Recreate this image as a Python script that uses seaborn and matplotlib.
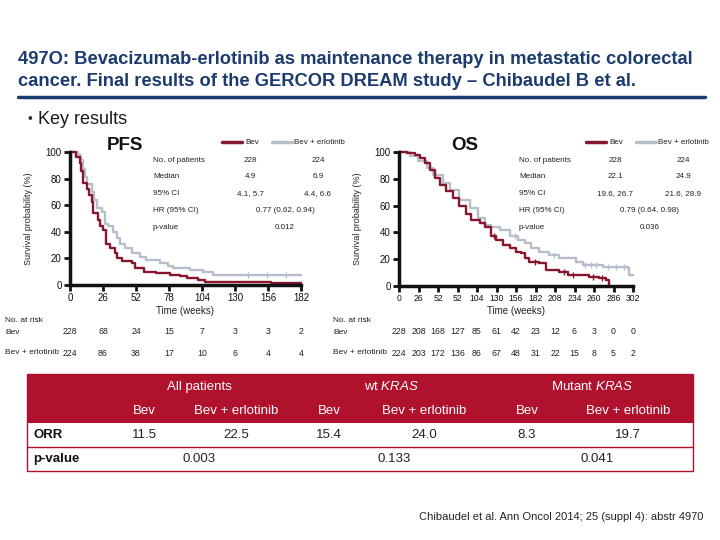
import numpy as np
import pandas as pd
import seaborn as sns
import matplotlib.pyplot as plt
from matplotlib.transforms import blended_transform_factory
from matplotlib.patches import Rectangle

# ---- data ----
arms = ['Bev', 'Bev + erlotinib']

# PFS step curves (weeks, % event free)
pfs_bev_t = [0, 5, 8, 8.7, 10, 13, 15, 17, 18.4, 22, 24, 26, 28, 31.5, 35.5, 37, 41,
             48.6, 51, 58, 68, 79, 87, 92, 101, 106, 158, 182]
pfs_bev_s = [100, 96, 92, 86, 77, 72, 67.6, 62.6, 54, 49, 44, 41, 31, 27.7, 24, 20, 17.7,
             16.5, 12.7, 10, 9, 7.2, 6.5, 5.2, 4, 2, 1.5, 1.5]
pfs_erl_t = [0, 6.6, 9, 10.5, 12, 13.7, 17, 19, 21, 25, 27.6, 30, 34, 37, 39, 43, 49,
             55, 60, 71, 77.5, 81, 94.6, 105, 113, 182]
pfs_erl_s = [100, 97.5, 94, 87.5, 81, 76, 70, 64, 57.6, 55, 46, 44, 40, 35, 31, 27.7, 24,
             21.4, 19, 16.5, 14, 12.7, 11.5, 10, 7.2, 7.2]
pfs_erl_cens = [140, 155, 170]

# OS step curves
os_bev_t = [0, 10.3, 21.3, 27.9, 34.1, 41.3, 47.5, 54.8, 63, 72.3, 80.6, 89.9, 96.1, 107.4,
            114.2, 122.9, 129.7, 138.4, 147.4, 156, 162.9, 167.4, 173.6, 187, 196.3, 213.9,
            225.2, 253.6, 266.5, 275.8, 280]
os_bev_s = [100, 99, 98, 95.5, 91.8, 86.8, 80.5, 75.6, 70.6, 65.6, 59.4, 54, 49, 47, 44.4,
            37, 34.4, 30.7, 28, 25.7, 24.4, 20.7, 18.2, 17, 12, 10.7, 8.2, 7, 5.7, 4.5, 0.7]
os_bev_cens = [126, 181, 220, 232, 258, 271]
os_erl_t = [0, 14.5, 25.8, 36.8, 45.5, 58.9, 67.7, 80.6, 94, 105.4, 114.2, 122.9, 134.3,
            147.4, 158, 167.4, 176.1, 187, 200.4, 213.9, 235.5, 244.8, 271.7, 304.8, 306.8, 312]
os_erl_s = [100, 97, 93, 88, 83, 77, 71.8, 64, 58, 50.6, 45.6, 44.4, 41.9, 37, 34.4, 32,
            28, 25.7, 23, 20.7, 18.2, 15.7, 14.5, 13.2, 8.2, 8.2]
os_erl_cens = [155, 207, 248, 256, 263, 279, 289, 300]

pfs_ticks = [0, 26, 52, 78, 104, 130, 156, 182]
os_ticks = [0, 26, 52, 78, 104, 130, 156, 182, 208, 234, 260, 286, 312]
os_ticklabels = ['0', '26', '52', '52', '104', '130', '156', '182', '208', '234', '260', '286', '302']

pfs_risk_bev = [228, 68, 24, 15, 7, 3, 3, 2]
pfs_risk_erl = [224, 86, 38, 17, 10, 6, 4, 4]
os_risk_bev = [228, 208, 168, 127, 85, 61, 42, 23, 12, 6, 3, 0, 0]
os_risk_erl = [224, 203, 172, 136, 86, 67, 48, 31, 22, 15, 8, 5, 2]

stat_rows = ['No. of patients', 'Median', '95% CI', 'HR (95% CI)', 'p-value']
pfs_stats = [('228', '224'), ('4.9', '6.9'), ('4.1, 5.7', '4.4, 6.6'), ('0.77 (0.62, 0.94)',), ('0.012',)]
os_stats = [('228', '224'), ('22.1', '24.9'), ('19.6, 26.7', '21.6, 28.9'), ('0.79 (0.64, 0.98)',), ('0.036',)]

groups = ['All patients', 'wt $\\mathit{KRAS}$', 'Mutant $\\mathit{KRAS}$']
orr_bev = ['11.5', '15.4', '8.3']
orr_erl = ['22.5', '24.0', '19.7']
orr_p = ['0.003', '0.133', '0.041']

RED = '#87162F'
GRAY = '#B5BECA'
NAVY = '#1C3B6E'
TABRED = '#B0122E'
palette = {'Bev': RED, 'Bev + erlotinib': GRAY}

sns.set_theme(style='white')
plt.rcParams['font.family'] = ['Liberation Sans', 'DejaVu Sans']
plt.rcParams['mathtext.fontset'] = 'custom'
plt.rcParams['mathtext.rm'] = 'Liberation Sans'
plt.rcParams['mathtext.it'] = 'Liberation Sans:italic'

fig = plt.figure(figsize=(7.2, 5.4), dpi=100)

# background axes in pixel coordinates for slide text
bg = fig.add_axes([0, 0, 1, 1])
bg.set_xlim(0, 720)
bg.set_ylim(540, 0)
bg.axis('off')

bg.text(18, 59, '497O: Bevacizumab-erlotinib as maintenance therapy in metastatic colorectal',
        fontsize=13.2, fontweight='bold', color=NAVY, va='center')
bg.text(18, 81, 'cancer. Final results of the GERCOR DREAM study \u2013 Chibaudel B et al.',
        fontsize=13.2, fontweight='bold', color=NAVY, va='center')
bg.plot([18, 705], [97, 97], color=NAVY, lw=2.5)
bg.text(28, 119, '\u2022', fontsize=10, color='#333333', va='center')
bg.text(38, 119, 'Key results', fontsize=13, color='#1a1a1a', va='center')


def px(x0, y0, w, h):
    return [x0 / 720, 1 - (y0 + h) / 540, w / 720, h / 540]


def km_frame(t, s, arm):
    return pd.DataFrame({'t': t, 's': s, 'arm': arm})


def step_value(t, s, x):
    idx = np.searchsorted(t, x, side='right') - 1
    return np.asarray(s)[idx]


def km_panel(rect, curves, cens, ticks, ticklabels, xmax, tsize):
    ax = fig.add_axes(rect)
    ax.set_facecolor('none')
    df = pd.concat([km_frame(t, s, a) for a, (t, s) in curves.items()], ignore_index=True)
    sns.lineplot(data=df, x='t', y='s', hue='arm', hue_order=['Bev + erlotinib', 'Bev'],
                 palette=palette, estimator=None, sort=False, drawstyle='steps-post',
                 linewidth=1.7, legend=False, ax=ax)
    for line in ax.lines:
        line.set_clip_on(False)
    for a, ct in cens.items():
        t, s = curves[a]
        ax.scatter(ct, step_value(t, s, ct), marker='|', s=16, color=palette[a],
                   linewidths=1, clip_on=False, zorder=3)
    ax.set_xlim(0, xmax)
    ax.set_ylim(0, 100)
    ax.set_xticks(ticks)
    ax.set_xticklabels(ticklabels)
    ax.set_yticks([0, 20, 40, 60, 80, 100])
    for side in ['top', 'right']:
        ax.spines[side].set_visible(False)
    for side in ['left', 'bottom']:
        ax.spines[side].set_linewidth(2.5)
        ax.spines[side].set_color('#111111')
    ax.tick_params(axis='both', length=4, width=2, direction='out', labelsize=7,
                   pad=2, colors='#111111', left=True, bottom=True)
    ax.tick_params(axis='x', labelsize=tsize)
    ax.set_xlabel('Time (weeks)', fontsize=7, labelpad=2, color='#222222')
    ax.set_ylabel('Survival probability (%)', fontsize=6.5, labelpad=9, color='#222222')
    return ax


ax1 = km_panel(px(70, 152, 231, 133),
               {'Bev': (pfs_bev_t, pfs_bev_s), 'Bev + erlotinib': (pfs_erl_t, pfs_erl_s)},
               {'Bev + erlotinib': pfs_erl_cens}, pfs_ticks, [str(v) for v in pfs_ticks], 182, 7)
ax2 = km_panel(px(399, 152, 234, 134),
               {'Bev': (os_bev_t, os_bev_s), 'Bev + erlotinib': (os_erl_t, os_erl_s)},
               {'Bev': os_bev_cens, 'Bev + erlotinib': os_erl_cens}, os_ticks, os_ticklabels,
               312, 6.2)

# panel titles, legends and inset stats
small = 5.8
bg.text(107, 146, 'PFS', fontsize=13.5, fontweight='bold', color='#111111', va='center')
bg.text(451, 146, 'OS', fontsize=13.5, fontweight='bold', color='#111111', va='center')


def legend_and_stats(xl, xlab, xv1, xv2, xhr, stats):
    bg.plot([xl, xl + 20], [142, 142], color=RED, lw=2.5)
    bg.text(xl + 23, 142, 'Bev', fontsize=small, va='center', color='#222222')
    bg.plot([xl + 50, xl + 70], [142, 142], color=GRAY, lw=2.5)
    bg.text(xl + 72, 142, 'Bev + erlotinib', fontsize=small, va='center', color='#222222')
    for i, (lab, vals) in enumerate(zip(stat_rows, stats)):
        y = 160 + i * 16.8
        bg.text(xlab, y, lab, fontsize=small, va='center', color='#222222')
        if len(vals) == 2:
            bg.text(xv1, y, vals[0], fontsize=small, va='center', ha='center', color='#222222')
            bg.text(xv2, y, vals[1], fontsize=small, va='center', ha='center', color='#222222')
        else:
            bg.text(xhr, y, vals[0], fontsize=small, va='center', ha='center', color='#222222')


legend_and_stats(222, 153, 250, 318, 285, pfs_stats)
legend_and_stats(586, 519, 615, 683, 650, os_stats)


# number at risk
def at_risk(ax, xlab, bev, erl, ticks):
    tr = blended_transform_factory(ax.transData, fig.transFigure)
    fy = lambda y: 1 - y / 540
    bg.text(xlab, 321, 'No. at risk', fontsize=6, va='center', color='#222222')
    bg.text(xlab, 332, 'Bev', fontsize=6, va='center', color='#222222')
    bg.text(xlab, 353, 'Bev + erlotinib', fontsize=6, va='center', color='#222222')
    for x, b, e in zip(ticks, bev, erl):
        ax.text(x, fy(332), str(b), transform=tr, fontsize=6.3, ha='center', va='center',
                color='#222222', clip_on=False)
        ax.text(x, fy(353), str(e), transform=tr, fontsize=6.3, ha='center', va='center',
                color='#222222', clip_on=False)


at_risk(ax1, 5, pfs_risk_bev, pfs_risk_erl, pfs_ticks)
at_risk(ax2, 333, os_risk_bev, os_risk_erl, os_ticks)

# response table
tx0, tx1, ty0, ty1 = 27, 693, 374, 471
bg.add_patch(Rectangle((tx0, ty0), tx1 - tx0, 49, color=TABRED, lw=0))
bg.add_patch(Rectangle((tx0, ty0), tx1 - tx0, ty1 - ty0, fill=False, ec=TABRED, lw=1))
bg.plot([tx0, tx1], [447, 447], color=TABRED, lw=1)
group_x = [199, 391, 592]
bev_x = [144, 329, 527]
erl_x = [236, 424, 628]
p_x = [199, 394, 597]
for g, gx in zip(groups, group_x):
    bg.text(gx, 387, g, fontsize=9.5, color='white', ha='center', va='center')
for i in range(3):
    bg.text(bev_x[i], 411, 'Bev', fontsize=9.5, color='white', ha='center', va='center')
    bg.text(erl_x[i], 411, 'Bev + erlotinib', fontsize=9.5, color='white', ha='center', va='center')
    bg.text(bev_x[i], 435, orr_bev[i], fontsize=9.5, color='#222222', ha='center', va='center')
    bg.text(erl_x[i], 435, orr_erl[i], fontsize=9.5, color='#222222', ha='center', va='center')
    bg.text(p_x[i], 459, orr_p[i], fontsize=9.5, color='#222222', ha='center', va='center')
bg.text(33, 435, 'ORR', fontsize=9.5, fontweight='bold', color='#111111', va='center')
bg.text(33, 459, 'p-value', fontsize=9.5, fontweight='bold', color='#111111', va='center')

bg.text(703, 517, 'Chibaudel et al. Ann Oncol 2014; 25 (suppl 4): abstr 4970',
        fontsize=8, color='#222222', ha='right', va='center')

fig.savefig('out.png', dpi=100)
